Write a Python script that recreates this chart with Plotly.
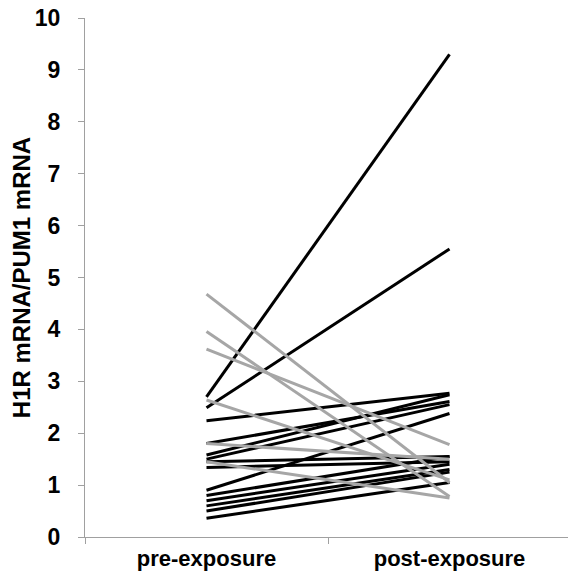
import plotly.graph_objects as go

categories = ["pre-exposure", "post-exposure"]

# Subjects whose H1R expression increased (black lines)
pre_black = [2.70, 2.49, 2.24, 1.80, 1.58, 1.50, 1.45, 1.34, 0.90, 0.80, 0.70, 0.60, 0.50, 0.36]
post_black = [9.30, 5.55, 2.77, 2.61, 2.74, 2.55, 1.55, 1.45, 2.38, 1.55, 1.40, 1.30, 1.25, 1.05]

# Subjects whose H1R expression decreased (gray lines)
pre_gray = [4.68, 3.96, 3.62, 2.64, 1.80, 1.45]
post_gray = [1.05, 0.78, 1.78, 1.10, 1.50, 0.75]

y_ticks = list(range(0, 11))

BLACK = "#000000"
GRAY = "#a6a6a6"

fig = go.Figure()
for a, b in zip(pre_black, post_black):
    fig.add_trace(go.Scatter(x=categories, y=[a, b], mode="lines",
                             line=dict(color=BLACK, width=3), showlegend=False,
                             hoverinfo="skip"))
for a, b in zip(pre_gray, post_gray):
    fig.add_trace(go.Scatter(x=categories, y=[a, b], mode="lines",
                             line=dict(color=GRAY, width=3), showlegend=False,
                             hoverinfo="skip"))

font_family = "Liberation Sans, Arial, sans-serif"

fig.update_layout(
    width=576, height=577,
    margin=dict(l=77, r=13, t=10, b=48),
    plot_bgcolor="white", paper_bgcolor="white",
    font=dict(family=font_family, color="black"),
    xaxis=dict(
        type="category",
        categoryorder="array", categoryarray=categories,
        range=[-0.5, 1.5],
        tickson="boundaries",
        automargin=False,
        ticks="outside", ticklen=6, tickcolor="#a0a0a0", tickwidth=1,
        showline=True, linecolor="#a0a0a0", linewidth=1,
        showgrid=False, zeroline=False,
        ticklabelstandoff=2,
        tickfont=dict(size=22, family=font_family, color="black", weight="bold"),
    ),
    yaxis=dict(
        range=[0, 10],
        tickvals=y_ticks,
        automargin=False,
        ticks="outside", ticklen=6, tickcolor="#a0a0a0", tickwidth=1,
        showline=True, linecolor="#a0a0a0", linewidth=1,
        showgrid=False, zeroline=False,
        ticklabelstandoff=13,
        ticklabeloverflow="allow",
        tickfont=dict(size=23, family=font_family, color="black", weight="bold"),
        title=dict(text="H1R mRNA/PUM1 mRNA", standoff=12,
                   font=dict(size=24, family=font_family, color="black", weight="bold")),
    ),
)

fig.write_html("out.html")
